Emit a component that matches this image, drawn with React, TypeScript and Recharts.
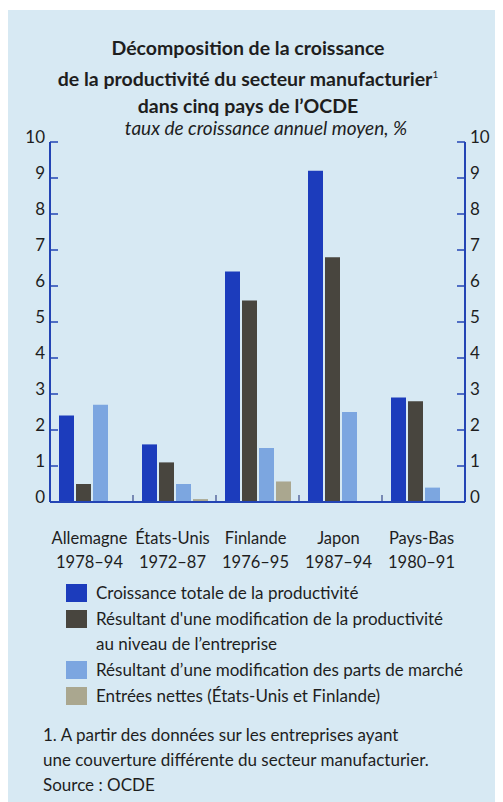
import { ComposedChart, Bar, Line, XAxis, YAxis } from "recharts";

const countries = ["Allemagne", "États-Unis", "Finlande", "Japon", "Pays-Bas"];
const periods = ["1978–94", "1972–87", "1976–95", "1987–94", "1980–91"];
const totale = [2.4, 1.6, 6.4, 9.2, 2.9];
const entreprise = [0.5, 1.1, 5.6, 6.8, 2.8];
const partsMarche = [2.7, 0.5, 1.5, 2.5, 0.4];
const entrees = [null, 0.08, 0.57, null, null];
const yTicks = [0, 1, 2, 3, 4, 5, 6, 7, 8, 9, 10];

const seriesNames = [
  "Croissance totale de la productivité",
  "Résultant d'une modification de la productivité\nau niveau de l’entreprise",
  "Résultant d’une modification des parts de marché",
  "Entrées nettes (États-Unis et Finlande)",
];
const colors = ["#1c3cbc", "#48453e", "#7ca6e0", "#aaa78f"];

const rows = countries.map((c, i) => ({
  pays: c,
  periode: periods[i],
  totale: totale[i],
  entreprise: entreprise[i],
  parts: partsMarche[i],
  entrees: entrees[i],
}));

const FONT = "Lato, 'Noto Sans', sans-serif";
const AXIS = "#2344b4";
const INK = "#1e1e1e";

function YTick(props: any) {
  const { x, y, payload, orientation } = props;
  const dir = orientation === "right" ? -1 : 1;
  return (
    <g>
      {payload.value > 0 && (
        <line x1={x} x2={x + dir * 8} y1={y} y2={y} stroke={AXIS} strokeWidth={1.5} />
      )}
      <text
        x={x - dir * 5}
        y={y + 1}
        textAnchor={dir === 1 ? "end" : "start"}
        fontSize={17}
        fill={INK}
        fontFamily={FONT}
      >
        {payload.value}
      </text>
    </g>
  );
}

function CatTick(props: any) {
  const { x, y, payload, index } = props;
  const half = payload.offset || 41.5;
  return (
    <g>
      {index > 0 && (
        <line x1={x - half} x2={x - half} y1={y - 1} y2={y - 7} stroke="#3a4a8a" strokeWidth={1.2} />
      )}
      <text x={x - 2} y={y + 42} textAnchor="middle" fontSize={16.5} fill={INK} fontFamily={FONT}>
        {payload.value}
      </text>
      <text x={x - 2} y={y + 66} textAnchor="middle" fontSize={16.5} fill={INK} fontFamily={FONT}>
        {periods[index]}
      </text>
    </g>
  );
}

export default function App() {
  return (
    <div
      style={{
        position: "relative",
        marginTop: 2,
        width: 495,
        height: 792,
        background: "#d7e9f3",
        fontFamily: FONT,
        color: INK,
      }}
    >
      <div
        style={{
          position: "absolute",
          top: 24,
          left: 0,
          width: 480,
          textAlign: "center",
          fontWeight: 700,
          fontSize: 19.5,
          lineHeight: "27px",
        }}
      >
        Décomposition de la croissance
        <br />
        de la productivité du secteur manufacturier
        <sup style={{ fontSize: 10, fontWeight: 400 }}>1</sup>
        <br />
        dans cinq pays de l’OCDE
      </div>
      <div
        style={{
          position: "absolute",
          top: 107,
          left: 23,
          width: 470,
          textAlign: "center",
          fontStyle: "italic",
          fontSize: 19,
          lineHeight: "22px",
        }}
      >
        taux de croissance annuel moyen, %
      </div>

      <div style={{ position: "absolute", top: 0, left: 0 }}>
        <ComposedChart
          width={495}
          height={600}
          data={rows}
          margin={{ top: 132, right: 37, bottom: 48, left: 41 }}
          barSize={15}
          barGap={2}
        >
          <XAxis
            dataKey="pays"
            height={60}
            axisLine={{ stroke: AXIS, strokeWidth: 2 }}
            tickLine={false}
            tickSize={0}
            tickMargin={0}
            interval={0}
            tick={<CatTick />}
          />
          <YAxis
            yAxisId="left"
            orientation="left"
            width={1}
            domain={[0, 10]}
            ticks={yTicks}
            interval={0}
            axisLine={{ stroke: AXIS, strokeWidth: 2 }}
            tickLine={false}
            tickSize={0}
            tickMargin={0}
            tick={(p: any) => <YTick {...p} orientation="left" />}
          />
          <YAxis
            yAxisId="right"
            orientation="right"
            width={1}
            domain={[0, 10]}
            ticks={yTicks}
            interval={0}
            axisLine={{ stroke: AXIS, strokeWidth: 2 }}
            tickLine={false}
            tickSize={0}
            tickMargin={0}
            tick={(p: any) => <YTick {...p} orientation="right" />}
          />
          <Bar yAxisId="left" dataKey="totale" fill={colors[0]} isAnimationActive={false} />
          <Bar yAxisId="left" dataKey="entreprise" fill={colors[1]} isAnimationActive={false} />
          <Bar yAxisId="left" dataKey="parts" fill={colors[2]} isAnimationActive={false} />
          <Bar yAxisId="left" dataKey="entrees" fill={colors[3]} isAnimationActive={false} />
          {/* invisible series so the right-hand axis gets its scale */}
          <Line
            yAxisId="right"
            dataKey="totale"
            stroke="transparent"
            dot={false}
            activeDot={false}
            legendType="none"
            isAnimationActive={false}
          />
        </ComposedChart>
      </div>

      <div style={{ position: "absolute", top: 570, left: 58, fontSize: 17, lineHeight: "25px" }}>
        {seriesNames.map((name, i) => (
          <div key={i} style={{ display: "flex", alignItems: "flex-start", marginBottom: 1 }}>
            <span
              style={{
                display: "inline-block",
                width: 21,
                height: 18,
                marginTop: 4,
                marginRight: 9,
                background: colors[i],
                flexShrink: 0,
              }}
            />
            <span style={{ whiteSpace: "pre-line" }}>{name}</span>
          </div>
        ))}
      </div>

      <div style={{ position: "absolute", top: 712, left: 35, fontSize: 17, lineHeight: "25px" }}>
        1. A partir des données sur les entreprises ayant
        <br />
        une couverture différente du secteur manufacturier.
        <br />
        Source : OCDE
      </div>
    </div>
  );
}
